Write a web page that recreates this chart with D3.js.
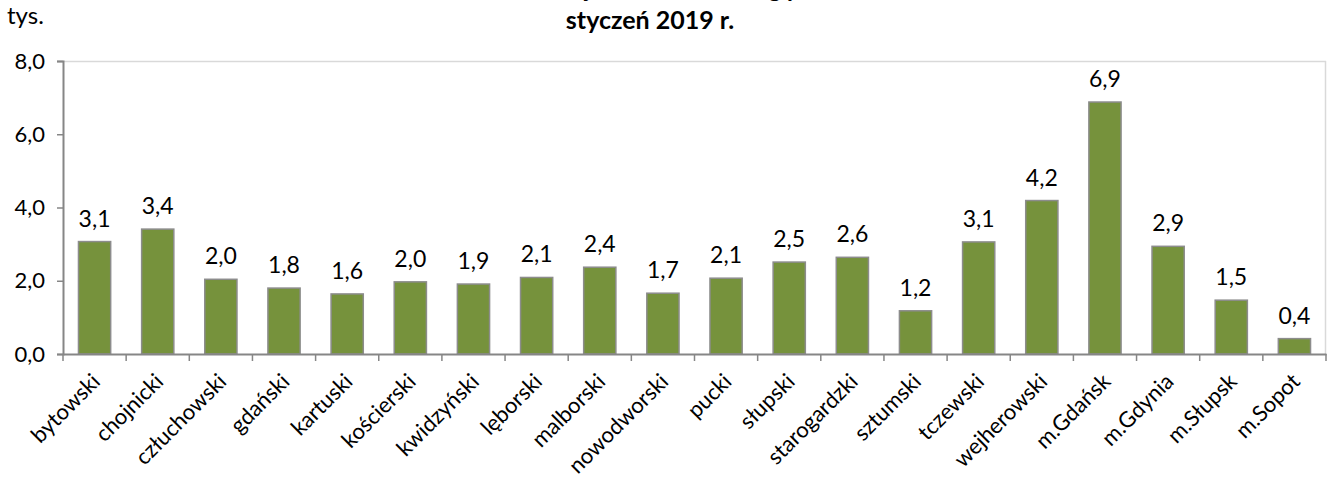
<!DOCTYPE html>
<html>
<head>
<meta charset="utf-8">
<script src="https://cdn.jsdelivr.net/npm/d3@7"></script>
<style>
html,body{margin:0;padding:0;background:#fff;}
svg{display:block;font-family:Lato,"Open Sans",sans-serif;}
</style>
</head>
<body>
<svg id="chart" width="1330" height="480"></svg>
<script>
const categories = ["bytowski","chojnicki","człuchowski","gdański","kartuski","kościerski","kwidzyński","lęborski","malborski","nowodworski","pucki","słupski","starogardzki","sztumski","tczewski","wejherowski","m.Gdańsk","m.Gdynia","m.Słupsk","m.Sopot"];
const values = [3.07,3.41,2.04,1.80,1.64,1.97,1.91,2.09,2.37,1.66,2.07,2.51,2.64,1.18,3.06,4.19,6.88,2.94,1.47,0.42];
const yTicks = [0,2,4,6,8];
const titleLines = ["Bezrobotni zarejestrowani według powiatów","styczeń 2019 r."];
const unitLabel = "tys.";

const svg = d3.select("#chart");
const m = {left:63, right:1326, top:61, bottom:354};
const fmt = v => v.toFixed(1).replace(".", ",");

const x = d3.scaleBand().domain(categories).range([m.left, m.right]).paddingInner(0.49).paddingOuter(0.245);
const y = d3.scaleLinear().domain([0,8]).range([m.bottom, m.top]);

// plot border (top/right)
svg.append("line").attr("x1",m.left).attr("x2",m.right).attr("y1",m.top+0.5).attr("y2",m.top+0.5).attr("stroke","#d9d9d9").attr("stroke-width",1.5);
svg.append("line").attr("x1",m.right-0.5).attr("x2",m.right-0.5).attr("y1",m.top).attr("y2",m.bottom).attr("stroke","#d9d9d9").attr("stroke-width",1.5);

// bars
svg.append("g").selectAll("rect").data(categories).join("rect")
  .attr("x", d => x(d))
  .attr("y", (d,i) => y(values[i]))
  .attr("width", x.bandwidth())
  .attr("height", (d,i) => y(0) - y(values[i]))
  .attr("fill", "#76923c")
  .attr("stroke", "#8c8c8c")
  .attr("stroke-width", 1.5);

// value labels
svg.append("g").selectAll("text").data(categories).join("text")
  .attr("x", d => x(d) + x.bandwidth()/2)
  .attr("y", (d,i) => y(values[i]) - 15)
  .attr("text-anchor","middle")
  .attr("font-size", 23)
  .attr("fill","#000")
  .text((d,i) => fmt(values[i]));

// y axis
const yAxis = svg.append("g").attr("transform",`translate(${m.left},0)`)
  .call(d3.axisLeft(y).tickValues(yTicks).tickFormat(fmt).tickSize(6).tickPadding(12));
yAxis.select(".domain").attr("stroke","#868686").attr("stroke-width",2);
yAxis.selectAll(".tick line").attr("stroke","#868686").attr("stroke-width",1.5);
yAxis.selectAll(".tick text").attr("font-size",22).attr("fill","#000").attr("font-family","Lato,'Open Sans',sans-serif");

// x axis
const xAxis = svg.append("g").attr("transform",`translate(0,${m.bottom})`)
  .call(d3.axisBottom(x).tickSize(0).tickFormat(""));
xAxis.select(".domain").attr("stroke","#868686").attr("stroke-width",2);
xAxis.selectAll(".tick").remove();
// boundary ticks
const bounds = categories.map(d => x(d) - x.step()*x.paddingInner()/2).concat([m.right]);
svg.append("g").selectAll("line").data(bounds).join("line")
  .attr("x1", d => d).attr("x2", d => d)
  .attr("y1", m.bottom).attr("y2", m.bottom + 7)
  .attr("stroke","#868686").attr("stroke-width",1.5);

// category labels
svg.append("g").selectAll("text").data(categories).join("text")
  .attr("transform", d => `translate(${x(d) + x.bandwidth()/2 - 4},${m.bottom + 18}) rotate(-45)`)
  .attr("text-anchor","end")
  .attr("dy","0.7em")
  .attr("font-size",22)
  .attr("fill","#000")
  .text(d => d);

// titles
svg.append("text").attr("x",655).attr("y",-3).attr("text-anchor","middle").attr("font-size",24).attr("font-weight","bold").text(titleLines[0]);
svg.append("text").attr("x",650).attr("y",29).attr("text-anchor","middle").attr("font-size",25).attr("font-weight","bold").text(titleLines[1]);
svg.append("text").attr("x",7).attr("y",24).attr("font-size",24).text(unitLabel);
</script>
</body>
</html>
